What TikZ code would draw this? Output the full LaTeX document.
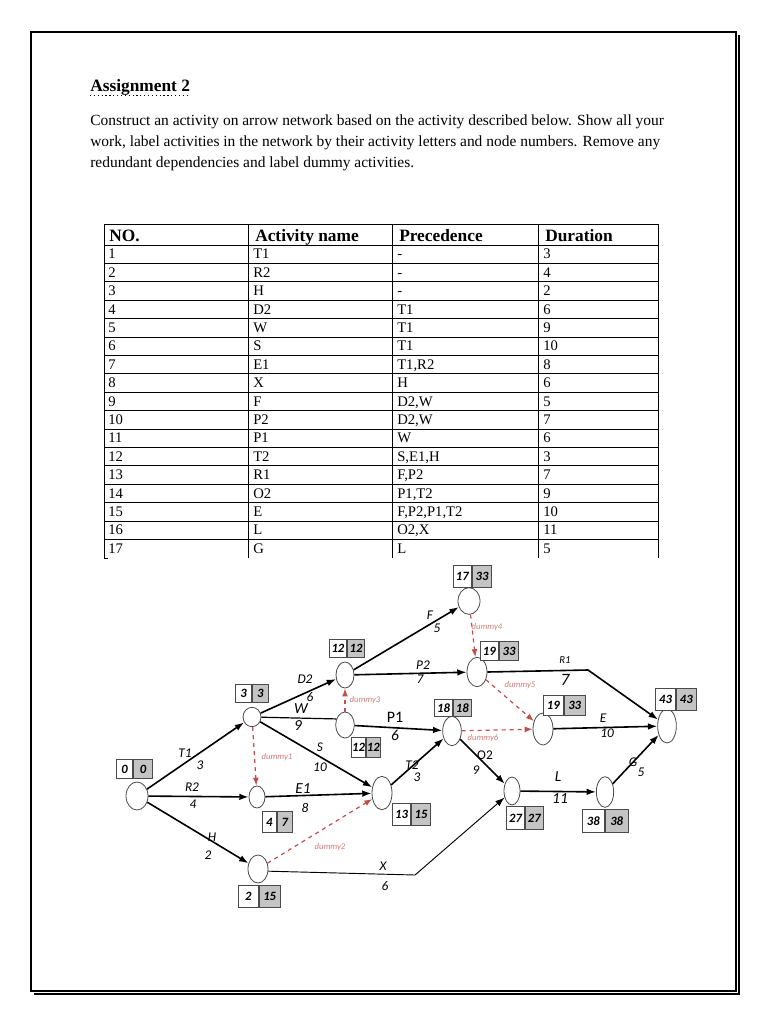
\documentclass[tikz,border=0pt]{standalone}
\usepackage{fontspec}
\setmainfont{Liberation Serif}
\newfontfamily\calfont{Carlito}
\usepackage{tikz}
\usetikzlibrary{arrows.meta,shapes.geometric,calc}
\definecolor{dummyred}{HTML}{C0504D}
\definecolor{cellgray}{HTML}{C4C4C4}
\definecolor{bk70}{HTML}{4A4A4A}
\tikzset{
  evnode/.style={
    ellipse, draw=bk70, semithick, fill=white,
    inner sep=0pt, minimum width=14pt, minimum height=21pt
  },
  cellw/.style={
    rectangle, draw=bk70, fill=white, semithick,
    inner sep=0pt, minimum width=13.5pt, minimum height=14pt,
    font=\calfont\bfseries\itshape\fontsize{9.5}{10}\selectfont
  },
  cellg/.style={cellw, fill=cellgray},
  actarrow/.style={
    -{Latex[length=7pt, width=5pt]}, line width=1.2pt, color=black
  },
  actline/.style={line width=0.9pt, color=black},
  dummyarrow/.style={
    -{Latex[length=6pt, width=4.5pt]}, dashed, line width=0.9pt, color=dummyred
  },
  actlabel/.style={inner sep=0pt, font=\calfont\itshape\fontsize{10}{11}\selectfont},
  biglabel/.style={inner sep=0pt, font=\calfont\itshape\fontsize{11.5}{12}\selectfont},
  dumlabel/.style={inner sep=0pt, text=dummyred!75,
    font=\calfont\itshape\fontsize{6.5}{7}\selectfont},
  bodytext/.style={anchor=base west, inner sep=0pt, font=\fontsize{11.6}{13}\selectfont},
  headtext/.style={anchor=base west, inner sep=0pt, font=\bfseries\fontsize{13}{14}\selectfont},
  tabtext/.style={anchor=base west, inner sep=0pt, font=\fontsize{11}{12}\selectfont},
  tabline/.style={line width=0.7pt, color=black},
}
\begin{document}
\begin{tikzpicture}[x=0.75pt, y=-0.75pt]
  \useasboundingbox (0,0) rectangle (768,1024);
  % page frame
  \draw[line width=1.3pt] (31,32) rectangle (736,991);
  \draw[line width=0.8pt] (739,35) -- (739,994) -- (34,994);
  % heading and task text
  \node[anchor=base west, inner sep=0pt, font=\bfseries\fontsize{13}{15}\selectfont] (title) at (90,92) {Assignment 2};
  \draw[dotted, line width=0.9pt] ([yshift=-2.5pt]title.base west) -- ([yshift=-2.5pt]title.base east);
  \node[bodytext] (par1) at (90,125) {Construct an activity on arrow network based on the activity described below. Show all your};
  \node[bodytext] (par2) at (90,146) {work, label activities in the network by their activity letters and node numbers. Remove any};
  \node[bodytext] (par3) at (90,167) {redundant dependencies and label dummy activities.};
  % table
  \foreach \xx in {104,248,392,538,658}
    \draw[tabline] (\xx,224) -- (\xx,558);
  \draw[tabline] (104,224) -- (658,224);
  \draw[tabline] (104,245) -- (658,245);
  \foreach \k in {1,...,16}
    \draw[tabline] (104,{245+18.4*\k}) -- (658,{245+18.4*\k});
  \draw[tabline] (104,558) -- (108,558);
  \node[headtext] (hno) at (109,241) {NO.};
  \node[headtext] (hact) at (255,241) {Activity name};
  \node[headtext] (hpre) at (399,241) {Precedence};
  \node[headtext] (hdur) at (545,241) {Duration};
  \foreach \n/\act/\pre/\dur in {1/T1/-/3, 2/R2/-/4, 3/H/-/2, 4/D2/T1/6, 5/W/T1/9,
      6/S/T1/10, 7/E1/{T1,R2}/8, 8/X/H/6, 9/F/{D2,W}/5, 10/P2/{D2,W}/7, 11/P1/W/6,
      12/T2/{S,E1,H}/3, 13/R1/{F,P2}/7, 14/O2/{P1,T2}/9, 15/E/{F,P2,P1,T2}/10,
      16/L/{O2,X}/11, 17/G/L/5} {
    \pgfmathsetmacro{\yb}{245+18.4*\n-4.6}
    \node[tabtext] (no\n) at (108,\yb) {\n};
    \node[tabtext] (act\n) at (253,\yb) {\act};
    \node[tabtext] (pre\n) at (397,\yb) {\pre};
    \node[tabtext] (dur\n) at (543,\yb) {\dur};
  }
  % events
  \node[evnode, minimum width=16.5pt, minimum height=21pt] (n0) at (137,796) {};
  \node[evnode, minimum width=13.5pt, minimum height=14.5pt] (n3) at (252,717) {};
  \node[evnode, minimum width=12pt, minimum height=16.5pt] (n4) at (257,797) {};
  \node[evnode, minimum width=15pt, minimum height=21pt] (n2) at (258,869) {};
  \node[evnode, minimum width=13.5pt, minimum height=19.5pt] (n12a) at (345,675) {};
  \node[evnode, minimum width=14pt, minimum height=19.5pt] (n12b) at (345,725) {};
  \node[evnode, minimum width=15pt, minimum height=25pt] (n13) at (382,793) {};
  \node[evnode, minimum width=16.5pt, minimum height=20pt] (n17) at (469,601) {};
  \node[evnode, minimum width=15pt, minimum height=22pt] (n19a) at (477,672) {};
  \node[evnode, minimum width=14pt, minimum height=22pt] (n18) at (452,731) {};
  \node[evnode, minimum width=15pt, minimum height=24pt] (n19b) at (543,729) {};
  \node[evnode, minimum width=14pt, minimum height=25.5pt] (n43) at (667,726) {};
  \node[evnode, minimum width=12pt, minimum height=21pt] (n27) at (512,791) {};
  \node[evnode, minimum width=13pt, minimum height=23pt] (n38) at (605,792) {};
  % time boxes
  \node[cellw, anchor=east, minimum width=12pt] (b0a) at (133,769) {0};
  \node[cellg, anchor=west, minimum width=14.5pt] (b0b) at (b0a.east) {0};
  \node[cellw, anchor=east, minimum width=12pt, minimum height=13.5pt] (b3a) at (252,693) {3};
  \node[cellg, anchor=west, minimum width=12pt, minimum height=13.5pt] (b3b) at (b3a.east) {3};
  \node[cellw, anchor=east, minimum width=13pt, minimum height=13.5pt] (b12aa) at (347,648) {12};
  \node[cellg, anchor=west, minimum width=13pt, minimum height=13.5pt] (b12ab) at (b12aa.east) {12};
  \node[cellw, anchor=east, minimum width=10.5pt, minimum height=15pt] (b12ba) at (366,747) {12};
  \node[cellg, anchor=west, minimum width=10.5pt, minimum height=15pt] (b12bb) at (b12ba.east) {12};
  \node[cellw, anchor=east, minimum width=11pt, minimum height=15.5pt] (b4a) at (277,822) {4};
  \node[cellg, anchor=west, minimum width=11pt, minimum height=15.5pt] (b4b) at (b4a.east) {7};
  \node[cellw, anchor=east, minimum width=15.5pt, minimum height=16.5pt] (b2a) at (259,896) {2};
  \node[cellg, anchor=west, minimum width=15.5pt, minimum height=16.5pt] (b2b) at (b2a.east) {15};
  \node[cellw, anchor=east, minimum width=13.5pt, minimum height=16.5pt] (b13a) at (411,814) {13};
  \node[cellg, anchor=west, minimum width=14.5pt, minimum height=16.5pt] (b13b) at (b13a.east) {15};
  \node[cellw, anchor=east, minimum width=14pt, minimum height=16.5pt] (b17a) at (472,576) {17};
  \node[cellg, anchor=west, minimum width=14.5pt, minimum height=16.5pt] (b17b) at (b17a.east) {33};
  \node[cellw, anchor=east, minimum width=14pt, minimum height=14pt] (b19aa) at (499,651) {19};
  \node[cellg, anchor=west, minimum width=14.5pt, minimum height=14pt] (b19ab) at (b19aa.east) {33};
  \node[cellw, anchor=east, minimum width=13.5pt, minimum height=12.5pt] (b18a) at (453,708) {18};
  \node[cellg, anchor=west, minimum width=13.5pt, minimum height=12.5pt] (b18b) at (b18a.east) {18};
  \node[cellw, anchor=east, minimum width=15.5pt, minimum height=15pt] (b19ba) at (564,705) {19};
  \node[cellg, anchor=west, minimum width=15.5pt, minimum height=15pt] (b19bb) at (b19ba.east) {33};
  \node[cellw, anchor=east, minimum width=15pt, minimum height=16.5pt] (b43a) at (676,699) {43};
  \node[cellg, anchor=west, minimum width=15pt, minimum height=16.5pt] (b43b) at (b43a.east) {43};
  \node[cellw, anchor=east, minimum width=13.5pt, minimum height=17pt] (b27a) at (525,818) {27};
  \node[cellg, anchor=west, minimum width=13.5pt, minimum height=17pt] (b27b) at (b27a.east) {27};
  \node[cellw, anchor=east, minimum width=17pt, minimum height=17pt] (b38a) at (605,821) {38};
  \node[cellg, anchor=west, minimum width=17pt, minimum height=17pt] (b38b) at (b38a.east) {38};
  % activities
  \coordinate (xbend) at (415,875);
  \coordinate (r1bend) at (588,670);
  \draw[actarrow] (n0) -- (n3);
  \draw[actarrow] (n0) -- (n4);
  \draw[actarrow] (n0) -- (n2);
  \draw[actarrow] (n3) -- (n12a);
  \draw[actline] (n3) -- (n12b.145);
  \draw[actarrow] (n3) -- (n13);
  \draw[actarrow] (n4) -- (n13);
  \draw[actarrow, line width=0.7pt] (n2.-12) -- (xbend) -- (n27);
  \draw[actarrow] (n12a) -- (n17);
  \draw[actarrow] (n12a) -- (n19a);
  \draw[actarrow] (n12b) -- (n18);
  \draw[actarrow] (n13) -- (n18);
  \draw[actarrow] (n19a.east) -- (r1bend) -- (n43);
  \draw[actarrow] (n18) -- (n27);
  \draw[actarrow] (n19b) -- (n43);
  \draw[actarrow] (n27) -- (n38);
  \draw[actarrow] (n38) -- (n43);
  % dummies
  \draw[dummyarrow] (n3) -- (n4);
  \draw[dummyarrow] (n2) -- (n13);
  \draw[dummyarrow] (n12b) -- (n12a);
  \draw[dummyarrow] (n17) -- (n19a);
  \draw[dummyarrow] (n19a) -- (n19b);
  \draw[dummyarrow] (n18) -- (n19b);
  % labels
  \node[actlabel] (lT1) at (185,753) {T1};
  \node[actlabel] (dT1) at (200,765) {3};
  \node[actlabel] (lR2) at (192,787) {R2};
  \node[actlabel] (dR2) at (193,804) {4};
  \node[actlabel] (lH) at (212,837) {H};
  \node[actlabel] (dH) at (208,855) {2};
  \node[actlabel] (lD2) at (305,679) {D2};
  \node[actlabel] (dD2) at (310,697) {6};
  \node[biglabel] (lW) at (301,709) {W};
  \node[biglabel] (dW) at (298,726) {9};
  \node[actlabel] (lS) at (320,747) {S};
  \node[actlabel] (dS) at (320,767) {10};
  \node[biglabel] (lE1) at (303,789) {E1};
  \node[actlabel] (dE1) at (305,808) {8};
  \node[actlabel] (lF) at (430,615) {F};
  \node[actlabel] (dF) at (437,628) {5};
  \node[actlabel] (lP2) at (423,665) {P2};
  \node[actlabel] (dP2) at (420,679) {7};
  \node[biglabel, font=\calfont\fontsize{12}{13}\selectfont] (lP1) at (395,717) {P1};
  \node[biglabel] (dP1) at (395,735) {6};
  \node[actlabel] (lT2) at (412,765) {T2};
  \node[actlabel] (dT2) at (417,777) {3};
  \node[actlabel, font=\calfont\itshape\fontsize{8}{9}\selectfont] (lR1) at (565,660) {R1};
  \node[biglabel, font=\calfont\itshape\fontsize{13}{14}\selectfont] (dR1) at (565,680) {7};
  \node[actlabel] (lE) at (603,718) {E};
  \node[actlabel] (dE) at (607,733) {10};
  \node[actlabel, font=\calfont\fontsize{10}{11}\selectfont] (lO2) at (485,755) {O2};
  \node[actlabel] (dO2) at (476,770) {9};
  \node[biglabel] (lL) at (558,777) {L};
  \node[biglabel] (dL) at (560,799) {11};
  \node[actlabel] (lG) at (633,762) {G};
  \node[actlabel] (dG) at (641,772) {5};
  \node[actlabel] (lX) at (383,866) {X};
  \node[actlabel] (dX) at (385,886) {6};
  \node[dumlabel] (ld1) at (277,757) {dummy1};
  \node[dumlabel] (ld2) at (330,847) {dummy2};
  \node[dumlabel] (ld3) at (365,700) {dummy3};
  \node[dumlabel] (ld4) at (487,627) {dummy4};
  \node[dumlabel] (ld5) at (520,685) {dummy5};
  \node[dumlabel] (ld6) at (483,738) {dummy6};
\end{tikzpicture}
\end{document}
